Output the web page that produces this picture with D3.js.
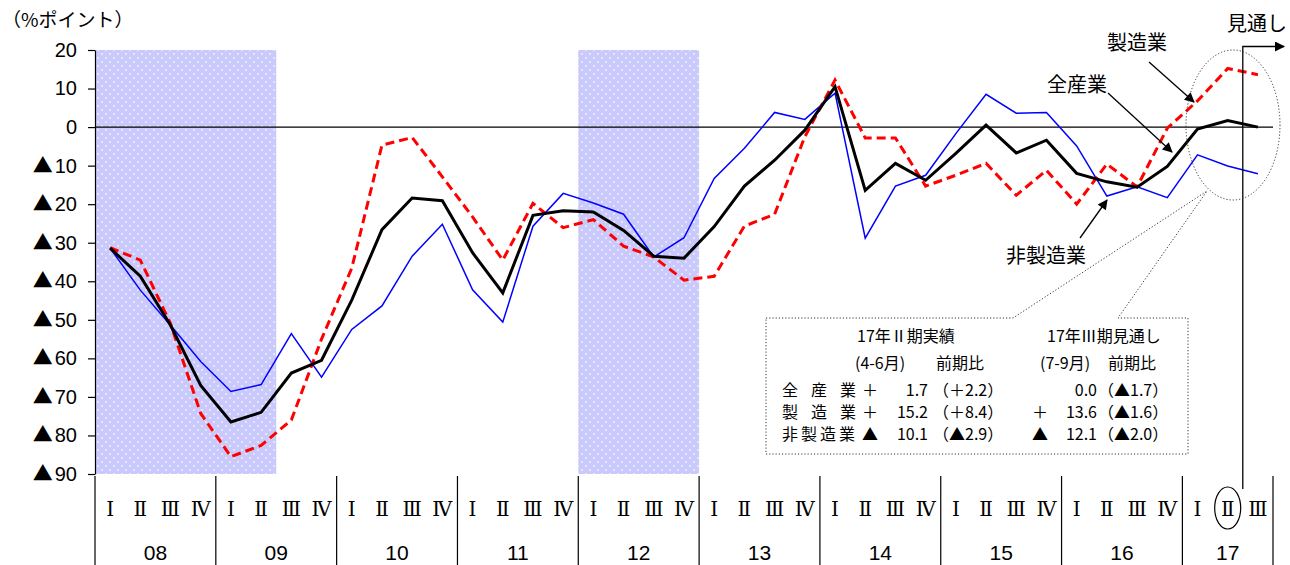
<!DOCTYPE html>
<html>
<head>
<meta charset="utf-8">
<script src="https://cdn.jsdelivr.net/npm/d3@7"></script>
<style>
  body { margin: 0; background: #fff; }
  svg { display: block; }
</style>
</head>
<body>
<svg id="chart" width="1290" height="565"></svg>
<script>
// ---- data -------------------------------------------------------------
const years = ["08", "09", "10", "11", "12", "13", "14", "15", "16", "17"];
const quarterNames = ["Ⅰ", "Ⅱ", "Ⅲ", "Ⅳ"];

// 全産業 (all industries)
const allIndustries = [
  -31.4, -38.7, -51.4, -67.0,  -76.5, -74.0, -63.8, -60.5,
  -44.9, -26.6, -18.4, -19.1,  -32.6, -43.0, -22.9, -21.7,
  -22.0, -26.8, -33.5, -34.0,  -25.8, -15.3,  -8.6,  -0.8,
   10.5, -16.4,  -9.4, -13.8,   -6.8,   0.5,  -6.7,  -3.4,
  -12.0, -14.2, -15.6, -10.2,   -0.5,   1.7,   0.0
];
// 製造業 (manufacturing)
const manufacturing = [
  -31.3, -34.5, -51.0, -74.3,  -85.5, -82.6, -76.0, -55.0,
  -36.6,  -4.7,  -2.7, -12.9,  -23.3, -34.5, -19.8, -26.1,
  -24.0, -30.9, -33.7, -39.7,  -38.7, -25.7, -22.6,  -2.5,
   12.2,  -2.8,  -2.8, -15.3,  -12.5,  -9.4, -17.7, -11.2,
  -20.0,  -9.6, -15.5,  -0.3,    6.8,  15.2,  13.6
];
// 非製造業 (non-manufacturing)
const nonManufacturing = [
  -31.4, -42.3, -51.4, -60.8,  -68.6, -66.8, -53.6, -64.9,
  -52.5, -46.4, -33.5, -25.2,  -42.2, -50.6, -25.7, -17.2,
  -19.7, -22.6, -33.7, -28.7,  -13.3,  -5.5,   3.8,   2.0,
    8.8, -28.8, -15.3, -12.5,   -1.7,   8.5,   3.6,   3.8,
   -4.9, -17.9, -15.5, -18.3,   -7.2, -10.1, -12.1
];

const yTicks = [20, 10, 0, -10, -20, -30, -40, -50, -60, -70, -80, -90];
// shaded periods (first quarter, last quarter)
const shadedPeriods = [["08-Ⅰ", "09-Ⅱ"], ["12-Ⅰ", "12-Ⅳ"]];
const seriesNames = ["全産業", "製造業", "非製造業"];

// ---- scales -----------------------------------------------------------
const quarterKeys = years.flatMap(yr => quarterNames.map(q => yr + "-" + q))
  .slice(0, allIndustries.length);

const svg = d3.select("#chart");
const x = d3.scaleBand().domain(quarterKeys).range([95, 1273]).padding(0);
const y = d3.scaleLinear().domain([-90, 20]).range([474, 50]);
const cx = k => x(k) + x.bandwidth() / 2;

const numFont = "'Liberation Sans', 'Noto Sans CJK JP', sans-serif";
const jpFont = "'Noto Sans CJK JP', sans-serif";
const romanFont = "'DejaVu Serif', serif";

// ---- defs -------------------------------------------------------------
const defs = svg.append("defs");
const pat = defs.append("pattern").attr("id", "dots")
  .attr("width", 8).attr("height", 8).attr("patternUnits", "userSpaceOnUse");
pat.append("rect").attr("width", 8).attr("height", 8).attr("fill", "#c9c9fb");
pat.append("circle").attr("cx", 2).attr("cy", 2).attr("r", 0.9).attr("fill", "#f4f4ff");
pat.append("circle").attr("cx", 6).attr("cy", 6).attr("r", 0.9).attr("fill", "#f4f4ff");

defs.append("marker").attr("id", "arrow")
  .attr("viewBox", "0 0 10 10").attr("refX", 9).attr("refY", 5)
  .attr("markerWidth", 12).attr("markerHeight", 10)
  .attr("markerUnits", "userSpaceOnUse").attr("orient", "auto")
  .append("path").attr("d", "M0,0 L10,5 L0,10 Z").attr("fill", "#000");

// ---- shaded periods ---------------------------------------------------
svg.append("g").selectAll("rect").data(shadedPeriods).join("rect")
  .attr("x", d => x(d[0]))
  .attr("width", d => x(d[1]) + x.bandwidth() - x(d[0]))
  .attr("y", y(20))
  .attr("height", y(-90) - y(20))
  .attr("fill", "url(#dots)");

// ---- y axis -----------------------------------------------------------
const yAxis = svg.append("g")
  .attr("transform", "translate(95,0)")
  .call(d3.axisLeft(y).tickValues(yTicks).tickSize(7).tickSizeOuter(0)
    .tickPadding(11)
    .tickFormat(v => (v < 0 ? "▲" : "") + Math.abs(v)));
yAxis.select(".domain").attr("stroke", "#000").attr("stroke-width", 1.2);
yAxis.selectAll(".tick line").attr("stroke", "#000").attr("stroke-width", 1.2);
yAxis.selectAll(".tick text")
  .attr("font-size", 20).attr("font-family", numFont).attr("fill", "#000")
  .each(function (v) {
    const t = d3.select(this).text(null);
    if (v < 0) t.append("tspan").attr("font-family", jpFont).attr("font-size", 20).text("▲");
    t.append("tspan").attr("dx", v < 0 ? 2 : 0).text(Math.abs(v));
  });

svg.append("text").attr("x", 2).attr("y", 27)
  .attr("font-size", 19).attr("font-family", jpFont).text("（%ポイント）");

// zero line
svg.append("line")
  .attr("x1", 95).attr("x2", x.range()[1])
  .attr("y1", y(0)).attr("y2", y(0))
  .attr("stroke", "#000").attr("stroke-width", 1.3);

// ---- x axis (quarters / years) ----------------------------------------
const xg = svg.append("g");
xg.selectAll("text.q").data(quarterKeys).join("text")
  .attr("class", "q")
  .attr("x", d => cx(d)).attr("y", 509)
  .attr("text-anchor", "middle").attr("dominant-baseline", "central")
  .attr("font-size", 20).attr("font-family", romanFont)
  .text(d => d.split("-")[1]);

const yearSpans = years.map(yr => {
  const ks = quarterKeys.filter(k => k.startsWith(yr + "-"));
  return { yr, x0: x(ks[0]), x1: x(ks[ks.length - 1]) + x.bandwidth() };
});
xg.selectAll("text.yr").data(yearSpans).join("text")
  .attr("class", "yr")
  .attr("x", d => (d.x0 + d.x1) / 2).attr("y", 552)
  .attr("text-anchor", "middle").attr("dominant-baseline", "central")
  .attr("font-size", 21).attr("font-family", numFont)
  .text(d => d.yr);

const dividers = yearSpans.map(d => d.x0).concat([yearSpans[yearSpans.length - 1].x1]);
xg.selectAll("line.div").data(dividers).join("line")
  .attr("class", "div")
  .attr("x1", d => d).attr("x2", d => d)
  .attr("y1", 476).attr("y2", 565)
  .attr("stroke", "#000").attr("stroke-width", 1.2);

// circled current quarter
svg.append("ellipse")
  .attr("cx", cx("17-Ⅱ")).attr("cy", 508).attr("rx", 13).attr("ry", 21)
  .attr("fill", "none").attr("stroke", "#000").attr("stroke-width", 1.2);

// ---- lines ------------------------------------------------------------
const line = d3.line().x((d, i) => cx(quarterKeys[i])).y(d => y(d));

svg.append("path").datum(nonManufacturing)
  .attr("d", line).attr("fill", "none")
  .attr("stroke", "#0000ff").attr("stroke-width", 1.5);

svg.append("path").datum(manufacturing)
  .attr("d", line).attr("fill", "none")
  .attr("stroke", "#ff0000").attr("stroke-width", 3)
  .attr("stroke-dasharray", "9,5");

svg.append("path").datum(allIndustries)
  .attr("d", line).attr("fill", "none")
  .attr("stroke", "#000").attr("stroke-width", 3)
  .attr("stroke-linejoin", "miter");

// ---- outlook marker ---------------------------------------------------
const splitX = x("17-Ⅲ");
svg.append("path")
  .attr("d", `M${splitX},489 L${splitX},46.5 L1284,46.5`)
  .attr("fill", "none").attr("stroke", "#000").attr("stroke-width", 1.3)
  .attr("marker-end", "url(#arrow)");
svg.append("text").attr("x", 1227).attr("y", 31)
  .attr("font-size", 20).attr("font-family", jpFont).text("見通し");

// ---- series labels with arrows ---------------------------------------
const labels = [
  { t: "製造業", x: 1137, y: 41, a: [1149, 62, 1194, 102] },
  { t: "全産業", x: 1077, y: 83, a: [1108, 93, 1172, 152] },
  { t: "非製造業", x: 1046, y: 254, a: [1080, 238, 1107, 200] }
];
labels.forEach(l => {
  svg.append("text").attr("x", l.x).attr("y", l.y)
    .attr("text-anchor", "middle").attr("dominant-baseline", "central")
    .attr("font-size", 20).attr("font-family", jpFont).text(l.t);
  svg.append("line")
    .attr("x1", l.a[0]).attr("y1", l.a[1]).attr("x2", l.a[2]).attr("y2", l.a[3])
    .attr("stroke", "#000").attr("stroke-width", 1.3)
    .attr("marker-end", "url(#arrow)");
});

// ---- callout ----------------------------------------------------------
svg.append("ellipse")
  .attr("cx", 1233).attr("cy", 125).attr("rx", 47).attr("ry", 75)
  .attr("fill", "none").attr("stroke", "#333").attr("stroke-width", 1)
  .attr("stroke-dasharray", "1.2,2");

svg.append("path")
  .attr("d", "M766,318 L1013,318 L1207,191 L1118,318 L1188,318 L1188,454 L766,454 Z")
  .attr("fill", "#fff").attr("stroke", "#333").attr("stroke-width", 1)
  .attr("stroke-dasharray", "1.2,2");

const tg = svg.append("g").attr("font-family", jpFont).attr("font-size", 16).attr("fill", "#000");
const addText = (t, xx, yy, anchor) => tg.append("text")
  .attr("x", xx).attr("y", yy).attr("text-anchor", anchor || "start")
  .attr("dominant-baseline", "central").text(t);

addText("17年Ⅱ期実績", 857, 335);
addText("17年Ⅲ期見通し", 1047, 335);
addText("(4-6月)", 855, 362);
addText("前期比", 936, 362);
addText("(7-9月)", 1040, 362);
addText("前期比", 1108, 362);

const sign = v => v > 0 ? "＋" : v < 0 ? "▲" : "";
const fmt = v => Math.abs(v).toFixed(1);
const series = [allIndustries, manufacturing, nonManufacturing];
const iQ2 = quarterKeys.indexOf("17-Ⅱ");
const iQ3 = quarterKeys.indexOf("17-Ⅲ");
const rowY = [389, 411, 433];

series.forEach((s, r) => {
  const cur = s[iQ2], prev = s[iQ2 - 1], next = s[iQ3];
  const d1 = +(cur - prev).toFixed(1), d2 = +(next - cur).toFixed(1);
  // per-character positions give the spaced-out row labels
  const step = seriesNames[r].length === 3 ? 29 : 19;
  const xs = Array.from(seriesNames[r], (c, i) => 782 + i * step).join(" ");
  addText(seriesNames[r], 0, rowY[r]).attr("x", xs);
  addText(sign(cur), 870, rowY[r], "middle");
  addText(fmt(cur), 928, rowY[r], "end");
  addText("（" + sign(d1) + fmt(d1) + "）", 933, rowY[r]);
  addText(sign(next), 1040, rowY[r], "middle");
  addText(fmt(next), 1097, rowY[r], "end");
  addText("（" + sign(d2) + fmt(d2) + "）", 1098, rowY[r]);
});
</script>
</body>
</html>
